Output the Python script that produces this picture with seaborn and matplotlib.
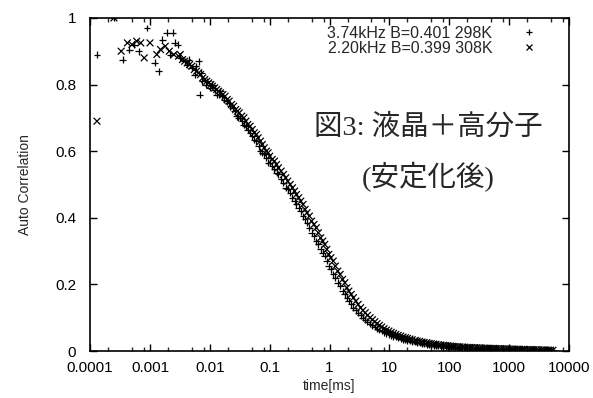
import matplotlib
matplotlib.use("Agg")
import matplotlib.pyplot as plt
import matplotlib.ticker as mticker
import pandas as pd
import seaborn as sns

# 3.74kHz, B=0.401, 298K  ('+')
time_a = [1.3e-4, 2.5e-4, 3.5e-4, 4.5e-4, 5.5e-4, 6.5e-4, 8.9e-4, 1.2e-3, 1.4e-3, 1.6e-3,
          1.9e-3, 2.2e-3, 2.4e-3, 2.6e-3, 2.9e-3, 3.2e-3, 3.8e-3, 4.2e-3, 5.0e-3, 5.6e-3,
          6.5e-3, 6.8e-3, 7.5e-3, 8.5e-3, 0.01, 0.012, 0.014, 0.016, 0.019, 0.022,
          0.026, 0.03, 0.035, 0.04, 0.047, 0.055, 0.065, 0.075, 0.088, 0.1,
          0.12, 0.14, 0.17, 0.2, 0.24, 0.28, 0.33, 0.39, 0.46, 0.55,
          0.65, 0.77, 0.9, 1.05, 1.25, 1.5, 1.8, 2.1, 2.5, 3.0,
          3.6, 4.3, 5.2, 6.2, 7.4, 8.9, 10.7, 12.8, 15.4, 18.5,
          22, 27, 32, 38, 46, 55, 66, 80, 95, 115,
          138, 165, 200, 240, 290, 350, 420, 500, 600, 720,
          870, 1040, 1250, 1500, 1800, 2200, 2600, 3100, 3800, 4500, 5400,
          0.0045, 0.0058, 0.0072, 0.009, 0.011, 0.013, 0.015, 0.0175, 0.0205, 0.024,
          0.028, 0.032, 0.037, 0.043, 0.051, 0.06, 0.07, 0.081, 0.094, 0.11,
          0.13, 0.155, 0.185, 0.22, 0.26, 0.305, 0.36, 0.42, 0.5, 0.6,
          0.71, 0.83, 0.97, 1.15, 1.37, 1.65, 1.95, 2.3, 2.75, 3.3,
          3.95, 4.75, 5.7, 6.8, 8.1, 9.8, 11.7, 14, 16.9, 20,
          24, 29, 35, 42, 50, 60, 72, 87, 105, 125,
          150, 180, 220, 265, 320, 385, 460, 550, 660, 790,
          950, 1140, 1370, 1650, 2000, 2400, 2850, 3450, 4100, 4900]
corr_a = [0.89, 1.0, 0.875, 0.905, 0.92, 0.90, 0.97, 0.865, 0.84, 0.935,
          0.955, 0.89, 0.955, 0.925, 0.92, 0.88, 0.87, 0.86, 0.85, 0.83,
          0.87, 0.77, 0.81, 0.80, 0.79, 0.785, 0.77, 0.765, 0.75, 0.735,
          0.72, 0.70, 0.69, 0.675, 0.655, 0.635, 0.615, 0.595, 0.58, 0.565,
          0.545, 0.53, 0.505, 0.485, 0.46, 0.44, 0.42, 0.395, 0.37, 0.345,
          0.32, 0.295, 0.27, 0.245, 0.22, 0.195, 0.17, 0.15, 0.13, 0.115,
          0.10, 0.088, 0.077, 0.067, 0.06, 0.053, 0.047, 0.042, 0.037, 0.033,
          0.03, 0.027, 0.024, 0.021, 0.019, 0.017, 0.015, 0.014, 0.013, 0.012,
          0.011, 0.010, 0.009, 0.0085, 0.008, 0.0075, 0.007, 0.0065, 0.006, 0.0055,
          0.005, 0.0048, 0.0045, 0.004, 0.0037, 0.0033, 0.003, 0.0027, 0.0024, 0.0021, 0.0018,
          0.875, 0.855, 0.835, 0.81, 0.80, 0.77, 0.78, 0.755, 0.745, 0.73,
          0.705, 0.70, 0.68, 0.665, 0.645, 0.63, 0.60, 0.59, 0.565, 0.555,
          0.535, 0.515, 0.49, 0.475, 0.45, 0.43, 0.405, 0.385, 0.355, 0.33,
          0.305, 0.285, 0.255, 0.23, 0.205, 0.18, 0.16, 0.14, 0.122, 0.107,
          0.094, 0.082, 0.072, 0.063, 0.056, 0.05, 0.044, 0.039, 0.035, 0.031,
          0.028, 0.025, 0.022, 0.02, 0.018, 0.016, 0.0145, 0.0135, 0.0125, 0.0115,
          0.0105, 0.0095, 0.009, 0.0082, 0.0078, 0.0072, 0.0068, 0.0062, 0.0058, 0.0052,
          0.0049, 0.0046, 0.0042, 0.0038, 0.0035, 0.0031, 0.0028, 0.0025, 0.0022, 0.002]

# 2.20kHz, B=0.399, 308K  ('x')
time_b = [1.3e-4, 2.5e-4, 3.3e-4, 4.2e-4, 5.0e-4, 6.0e-4, 7.0e-4, 8.0e-4, 1.0e-3, 1.3e-3,
          1.5e-3, 1.8e-3, 2.1e-3, 2.5e-3, 3.0e-3, 3.5e-3, 4.2e-3, 5.0e-3, 6.0e-3, 7.0e-3,
          8.2e-3, 0.0096, 0.011, 0.013, 0.015, 0.018, 0.021, 0.025, 0.029, 0.034,
          0.04, 0.047, 0.055, 0.064, 0.075, 0.088, 0.1, 0.12, 0.14, 0.17,
          0.2, 0.24, 0.28, 0.33, 0.39, 0.46, 0.55, 0.65, 0.77, 0.9,
          1.05, 1.25, 1.5, 1.8, 2.1, 2.5, 3.0, 3.6, 4.3, 5.2,
          6.2, 7.4, 8.9, 10.7, 12.8, 15.4, 18.5, 22, 27, 32,
          38, 46, 55, 66, 80, 95, 115, 138, 165, 200,
          240, 290, 350, 420, 500, 600, 720, 870, 1040, 1250,
          1500, 1800, 2200, 2600, 3100, 3800, 4500, 5400,
          0.0032, 0.0038, 0.0046, 0.0055, 0.0065, 0.0076, 0.0089, 0.0104, 0.012, 0.014,
          0.0165, 0.0195, 0.023, 0.027, 0.031, 0.037, 0.043, 0.051, 0.06, 0.07,
          0.081, 0.094, 0.11, 0.13, 0.155, 0.185, 0.22, 0.26, 0.305, 0.36,
          0.42, 0.5, 0.6, 0.71, 0.83, 0.97, 1.15, 1.37, 1.65, 1.95,
          2.3, 2.75, 3.3, 3.95, 4.75, 5.7, 6.8, 8.1, 9.8, 11.7,
          14, 16.9, 20, 24, 29, 35, 42, 50, 60, 72,
          87, 105, 125, 150, 180, 220, 265, 320, 385, 460,
          550, 660, 790, 950, 1140, 1370, 1650, 2000, 2400, 2850, 3450, 4100, 4900]
corr_b = [0.69, 1.0, 0.90, 0.925, 0.92, 0.93, 0.925, 0.88, 0.925, 0.89,
          0.905, 0.915, 0.90, 0.89, 0.885, 0.875, 0.865, 0.855, 0.84, 0.83,
          0.815, 0.805, 0.795, 0.785, 0.775, 0.765, 0.75, 0.735, 0.72, 0.705,
          0.69, 0.675, 0.655, 0.64, 0.62, 0.60, 0.585, 0.57, 0.55, 0.53,
          0.51, 0.49, 0.47, 0.45, 0.425, 0.405, 0.38, 0.355, 0.33, 0.305,
          0.28, 0.255, 0.23, 0.205, 0.18, 0.16, 0.14, 0.122, 0.107, 0.094,
          0.082, 0.072, 0.063, 0.056, 0.05, 0.045, 0.04, 0.036, 0.032, 0.029,
          0.026, 0.023, 0.021, 0.019, 0.017, 0.016, 0.014, 0.013, 0.012, 0.011,
          0.0105, 0.0098, 0.009, 0.0085, 0.008, 0.0075, 0.007, 0.0065, 0.006, 0.0056,
          0.0052, 0.0048, 0.0044, 0.004, 0.0036, 0.0032, 0.0028, 0.0024,
          0.89, 0.87, 0.86, 0.845, 0.835, 0.82, 0.81, 0.80, 0.79, 0.78,
          0.77, 0.755, 0.74, 0.725, 0.715, 0.70, 0.68, 0.665, 0.65, 0.63,
          0.61, 0.595, 0.575, 0.56, 0.54, 0.52, 0.50, 0.48, 0.46, 0.44,
          0.415, 0.39, 0.37, 0.34, 0.32, 0.29, 0.27, 0.24, 0.215, 0.19,
          0.17, 0.15, 0.13, 0.115, 0.10, 0.088, 0.077, 0.067, 0.06, 0.053,
          0.047, 0.042, 0.038, 0.034, 0.03, 0.027, 0.025, 0.022, 0.02, 0.018,
          0.0165, 0.015, 0.0135, 0.0125, 0.0115, 0.0108, 0.01, 0.0095, 0.0088, 0.0082,
          0.0078, 0.0072, 0.0068, 0.0062, 0.0058, 0.0054, 0.005, 0.0046, 0.0042, 0.0038,
          0.0034, 0.003, 0.0026]

label_a = "3.74kHz B=0.401 298K"
label_b = "2.20kHz B=0.399 308K"
x_ticks = [0.0001, 0.001, 0.01, 0.1, 1, 10, 100, 1000, 10000]
x_tick_labels = ["0.0001", "0.001", "0.01", "0.1", "1", "10", "100", "1000", "10000"]
y_ticks = [0, 0.2, 0.4, 0.6, 0.8, 1]
y_tick_labels = ["0", "0.2", "0.4", "0.6", "0.8", "1"]

sns.set_theme(style="ticks")
plt.rcParams["font.family"] = ["Liberation Sans", "DejaVu Sans"]

df = pd.concat([
    pd.DataFrame({"time": time_a, "corr": corr_a, "series": label_a}),
    pd.DataFrame({"time": time_b, "corr": corr_b, "series": label_b}),
])

fig = plt.figure(figsize=(5.93, 3.98), dpi=100)
ax = fig.add_axes([0.152, 0.118, 0.8075, 0.837])
sns.scatterplot(data=df, x="time", y="corr", hue="series", style="series",
                markers={label_a: "+", label_b: "x"},
                palette={label_a: "black", label_b: "black"},
                s=24, linewidth=0.9, ax=ax)

ax.set_xscale("log")
ax.set_xlim(0.0001, 10000)
ax.set_ylim(0, 1)
ax.set_xticks(x_ticks)
ax.set_xticklabels(x_tick_labels)
ax.xaxis.set_minor_locator(mticker.LogLocator(base=10, subs=[2, 5, 8], numticks=20))
ax.xaxis.set_minor_formatter(mticker.NullFormatter())
ax.set_yticks(y_ticks)
ax.set_yticklabels(y_tick_labels)
ax.tick_params(which="major", direction="in", length=5, width=1, top=True, right=True,
               labelsize=11, colors="black")
ax.tick_params(axis="x", which="major", pad=7)
ax.tick_params(axis="y", which="major", pad=10)
ax.tick_params(which="minor", direction="in", length=3, width=1, top=True, right=True)
for sp in ax.spines.values():
    sp.set_linewidth(1.2)
    sp.set_color("black")

ax.set_xlabel("time[ms]", fontsize=10, labelpad=3)
ax.set_ylabel("Auto Correlation", fontsize=10, labelpad=17)

leg = ax.legend(loc="upper right", markerfirst=False, frameon=False, fontsize=11.5,
                handletextpad=1.3, borderaxespad=0.1, labelspacing=0.0,
                bbox_to_anchor=(0.967, 1.0), title=None)

jp_font = ["Liberation Serif", "Noto Sans CJK JP"]
ax.text(0.706, 0.67, "図3: 液晶＋高分子", transform=ax.transAxes, ha="center",
        va="center", fontsize=20.5, family=jp_font)
ax.text(0.706, 0.522, "(安定化後)", transform=ax.transAxes, ha="center",
        va="center", fontsize=20.5, family=jp_font)

fig.savefig("out.png", dpi=100)
